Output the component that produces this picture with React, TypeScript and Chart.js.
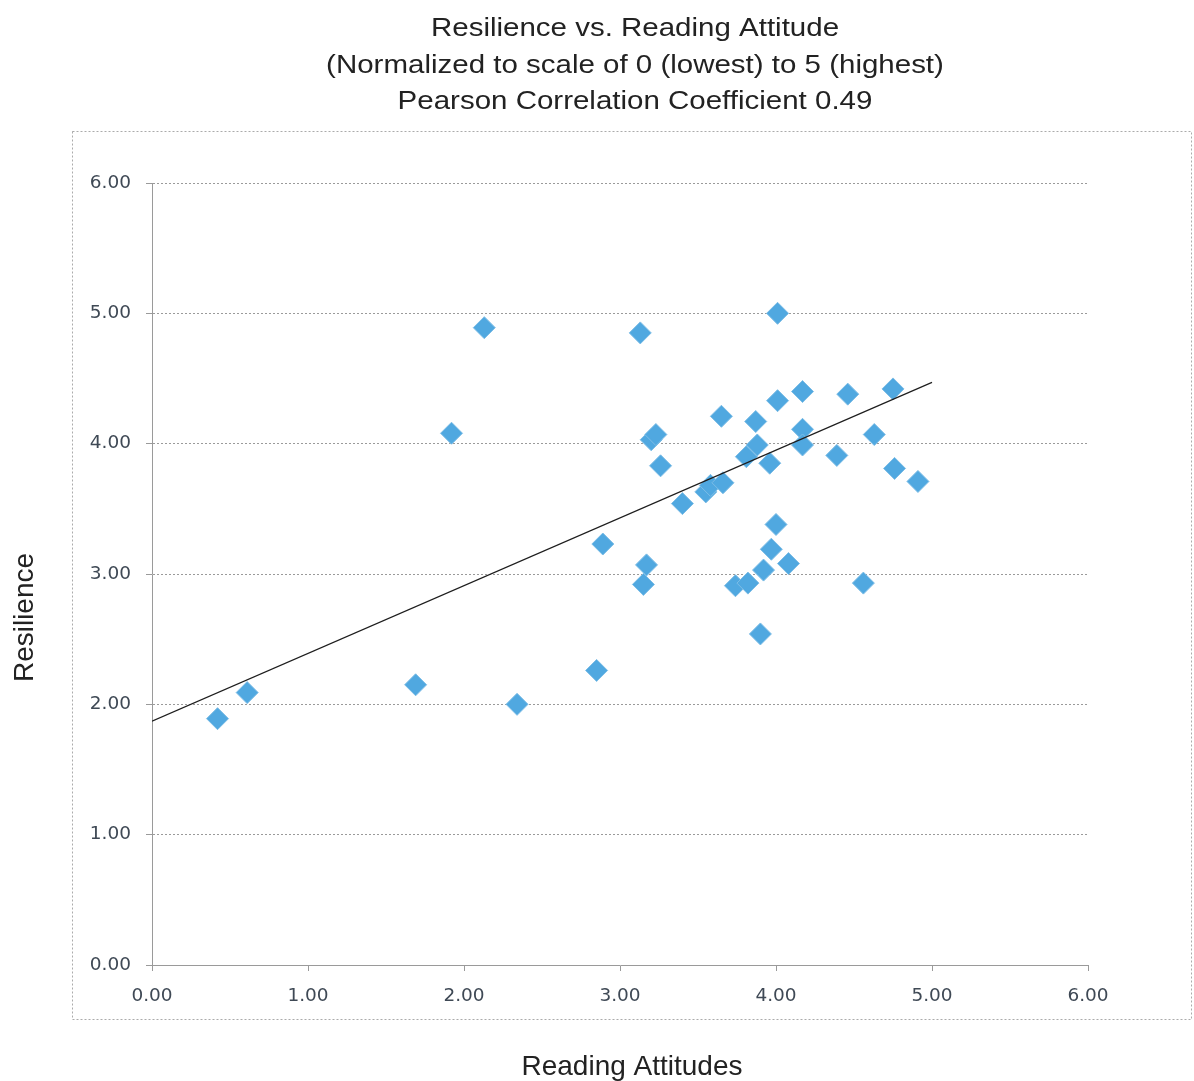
import React, { useEffect, useRef } from "react";
import { Chart, registerables } from "chart.js";

Chart.register(...registerables);

const titleLines = [
  "Resilience vs. Reading Attitude",
  "(Normalized to scale of 0 (lowest) to 5 (highest)",
  "Pearson Correlation Coefficient 0.49",
];
const xAxisTitle = "Reading Attitudes";
const yAxisTitle = "Resilience";

const readingAttitudes = [
  0.42, 0.61, 1.69, 1.92, 2.13, 2.34, 2.85, 2.89, 3.13, 3.17, 3.15, 3.2, 3.23, 3.26,
  3.4, 3.55, 3.58, 3.66, 3.65, 3.74, 3.82, 3.81, 3.87, 3.88, 3.9, 3.92, 3.96, 3.97,
  4.0, 4.01, 4.01, 4.08, 4.17, 4.17, 4.17, 4.39, 4.46, 4.56, 4.63, 4.75, 4.76, 4.91,
];
const resilience = [
  1.89, 2.09, 2.15, 4.08, 4.89, 2.0, 2.26, 3.23, 4.85, 3.07, 2.92, 4.03, 4.07, 3.83,
  3.54, 3.63, 3.68, 3.7, 4.21, 2.91, 2.93, 3.9, 4.17, 3.99, 2.54, 3.03, 3.85, 3.19,
  3.38, 4.33, 5.0, 3.08, 4.4, 4.11, 3.99, 3.91, 4.38, 2.93, 4.07, 4.42, 3.81, 3.71,
];

const trendX = [0, 5];
const trendY = [1.87, 4.47];

const axisMin = 0;
const axisMax = 6;
const axisStep = 1;

export default function App() {
  const ref = useRef<HTMLCanvasElement>(null);

  useEffect(() => {
    const canvas = ref.current;
    if (!canvas) return;

    const decor = {
      id: "decor",
      beforeDraw(chart: any) {
        const ctx = chart.ctx;
        ctx.save();
        ctx.fillStyle = "#ffffff";
        ctx.fillRect(0, 0, chart.width, chart.height);
        ctx.strokeStyle = "#ababab";
        ctx.lineWidth = 1;
        ctx.setLineDash([2, 2]);
        ctx.strokeRect(72.5, 131.5, 1119, 888);
        ctx.restore();
      },
      afterDraw(chart: any) {
        const ctx = chart.ctx;
        ctx.save();
        ctx.fillStyle = "#222222";
        ctx.textAlign = "center";
        ctx.textBaseline = "alphabetic";
        ctx.font = '26px "Liberation Sans", Arial, sans-serif';
        const baselines = [36, 72.5, 108.5];
        titleLines.forEach((t, i) => {
          ctx.save();
          ctx.translate(635, baselines[i]);
          ctx.scale(1.134, 1);
          ctx.fillText(t, 0, 0);
          ctx.restore();
        });
        ctx.font = '28px "Liberation Sans", Arial, sans-serif';
        ctx.fillText(xAxisTitle, 632, 1075);
        ctx.save();
        ctx.translate(33, 617.5);
        ctx.rotate(-Math.PI / 2);
        ctx.fillText(yAxisTitle, 0, 0);
        ctx.restore();
        ctx.restore();
      },
    };

    const tickFont = { family: '"DejaVu Sans", Verdana, sans-serif', size: 18.5 };
    const tickColor = "#3f4955";
    const gridColor = "#9a9a9a";

    const chart = new Chart(canvas, {
      type: "scatter",
      data: {
        datasets: [
          {
            type: "line",
            label: "Trend",
            data: trendX.map((x, i) => ({ x, y: trendY[i] })),
            borderColor: "#1e1e1e",
            borderWidth: 1.2,
            pointRadius: 0,
            fill: false,
            order: 0,
          } as any,
          {
            type: "scatter",
            label: "Resilience",
            data: readingAttitudes.map((x, i) => ({ x, y: resilience[i] })),
            pointStyle: "rectRot",
            pointRadius: 11,
            backgroundColor: "#50a8e0",
            borderColor: "#7dbde6",
            borderWidth: 1,
            order: 1,
          } as any,
        ],
      },
      options: {
        responsive: false,
        animation: false,
        devicePixelRatio: 1,
        layout: { padding: { top: 183, left: 0, right: 106, bottom: 0 } },
        plugins: {
          legend: { display: false },
          tooltip: { enabled: false },
          title: { display: false },
        },
        scales: {
          x: {
            type: "linear",
            min: axisMin,
            max: axisMax,
            ticks: {
              stepSize: axisStep,
              padding: 14,
              color: tickColor,
              font: tickFont,
              callback: (v: any) => Number(v).toFixed(2),
            },
            grid: {
              drawOnChartArea: false,
              drawTicks: true,
              tickLength: 6,
              color: gridColor,
            },
            border: { display: true, color: gridColor },
            afterFit: (s: any) => {
              s.height = 116;
            },
          },
          y: {
            type: "linear",
            min: axisMin,
            max: axisMax,
            ticks: {
              stepSize: axisStep,
              padding: 15,
              color: tickColor,
              font: tickFont,
              callback: (v: any) => Number(v).toFixed(2),
            },
            grid: {
              drawOnChartArea: true,
              drawTicks: true,
              tickLength: 6,
              color: gridColor,
            },
            border: { display: true, color: gridColor, dash: [2, 2] },
            afterFit: (s: any) => {
              s.width = 152;
            },
          },
        },
      } as any,
      plugins: [decor],
    });

    return () => chart.destroy();
  }, []);

  return (
    <div
      style={{
        position: "absolute",
        left: 0,
        top: 0,
        width: 1194,
        height: 1081,
        background: "#ffffff",
      }}
    >
      <canvas
        ref={ref}
        width={1194}
        height={1081}
        style={{ display: "block", width: 1194, height: 1081 }}
      />
    </div>
  );
}
